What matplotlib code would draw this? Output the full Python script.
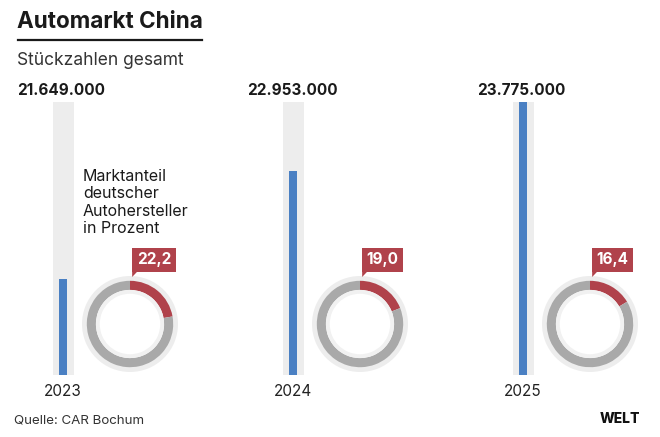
import matplotlib
matplotlib.use('Agg')
import matplotlib.pyplot as plt
from matplotlib.lines import Line2D
from matplotlib.patches import Polygon

plt.rcParams['font.family'] = ['Inter', 'DejaVu Sans']

# data
years = ['2023', '2024', '2025']
units = [21649000, 22953000, 23775000]
unit_labels = ['21.649.000', '22.953.000', '23.775.000']
german_share = [22.2, 19.0, 16.4]
share_labels = ['22,2', '19,0', '16,4']
axis_floor = 20.5e6  # the bars don't start at zero

BLUE = '#4a80c3'
TRACK = '#ededed'
RED = '#b0424b'
RING = '#a9a9a9'
TEXT = '#1a1a1a'

W, H = 660, 437
fig = plt.figure(figsize=(W / 100, H / 100), dpi=100)
fig.patch.set_facecolor('white')


def box(x, y, w, h):
    # pixel box (top-left origin) -> figure fraction
    return [x / W, 1 - (y + h) / H, w / W, h / H]


def fy(y):
    return 1 - y / H


# header
fig.text(17 / W, fy(28), 'Automarkt China', fontsize=16.2, fontweight='bold',
         color=TEXT, va='baseline')
fig.add_artist(Line2D([18 / W, 202 / W], [fy(40), fy(40)], color=TEXT, lw=1.6,
                      transform=fig.transFigure))
fig.text(17 / W, fy(65), 'Stückzahlen gesamt', fontsize=12.5, color='#333333',
         va='baseline')

step = 230
for i, year in enumerate(years):
    cx = 63 + i * step

    # tall track + blue bar
    bax = fig.add_axes(box(cx - 10.5, 102, 21, 273))
    bax.set_facecolor(TRACK)
    bax.bar(0, units[i] - axis_floor, bottom=axis_floor, width=0.38, color=BLUE)
    bax.set_xlim(-0.5, 0.5)
    bax.set_ylim(axis_floor, max(units))
    bax.axis('off')
    bax.add_patch(plt.Rectangle((0, 0), 1, 1, transform=bax.transAxes,
                                color=TRACK, zorder=0))

    fig.text((cx - 46) / W, fy(95), unit_labels[i], fontsize=11,
             fontweight='bold', color=TEXT, va='baseline')
    fig.text(cx / W, fy(396), year, fontsize=11, color='#222222', ha='center',
             va='baseline')

    # donut
    dcx, dcy, r = cx + 67, 324, 48
    dax = fig.add_axes(box(dcx - r, dcy - r, 2 * r, 2 * r))
    dax.pie([1], radius=1.0, colors=[TRACK], wedgeprops=dict(width=0.12))
    dax.pie([german_share[i], 100 - german_share[i]], radius=0.9,
            colors=[RED, RING], startangle=90, counterclock=False,
            wedgeprops=dict(width=0.19, linewidth=0))
    dax.pie([1], radius=0.71, colors=['#f1f1f1'], wedgeprops=dict(width=0.08))
    dax.set_xlim(-1, 1)
    dax.set_ylim(-1, 1)
    dax.set_aspect('equal')
    dax.axis('off')

    # value tag with a small pointer at its lower left corner
    dax.text(0.14, 1.18, share_labels[i], fontsize=11, fontweight='bold',
             color='white', ha='left', va='bottom', clip_on=False,
             bbox=dict(boxstyle='square,pad=0.3', fc=RED, ec='none'))
    dax.add_patch(Polygon([(0.045, 1.1), (0.045, 0.98), (0.16, 1.1)],
                          closed=True, color=RED, lw=0, clip_on=False))

fig.text(83 / W, fy(169), 'Marktanteil\ndeutscher\nAutohersteller\nin Prozent',
         fontsize=11.5, color=TEXT, va='top', linespacing=1.2)

fig.text(14 / W, fy(423), 'Quelle: CAR Bochum', fontsize=9.6, color='#333333',
         va='baseline')
fig.text(640 / W, fy(423), 'WELT', fontsize=10, fontweight='heavy', color='#111111',
         ha='right', va='baseline')

fig.savefig('out.png', dpi=100, facecolor='white')
